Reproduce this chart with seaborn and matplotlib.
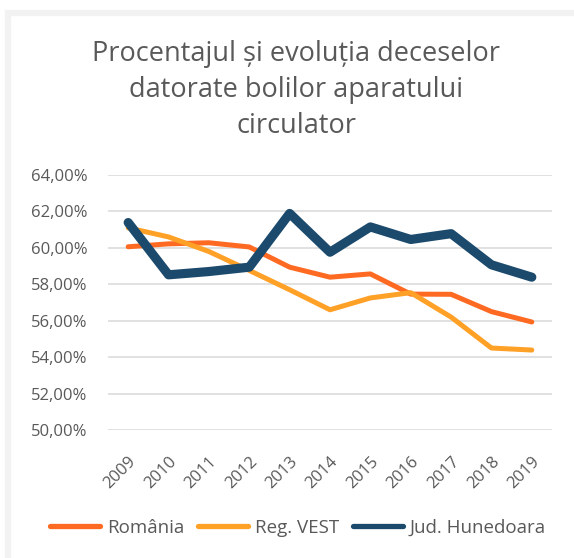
import matplotlib
matplotlib.use("Agg")
import matplotlib.pyplot as plt
import matplotlib.transforms as mtransforms
import seaborn as sns
import pandas as pd
from matplotlib.patches import Rectangle
from matplotlib.ticker import FuncFormatter, MultipleLocator

years = ["2009", "2010", "2011", "2012", "2013", "2014", "2015", "2016", "2017", "2018", "2019"]
romania = [60.06, 60.22, 60.28, 60.05, 58.94, 58.39, 58.57, 57.46, 57.45, 56.50, 55.93]
reg_vest = [61.10, 60.60, 59.80, 58.76, 57.70, 56.60, 57.25, 57.54, 56.20, 54.50, 54.39]
hunedoara = [61.39, 58.52, 58.70, 58.94, 61.89, 59.76, 61.15, 60.46, 60.78, 59.07, 58.39]
series_names = ["România", "Reg. VEST", "Jud. Hunedoara"]
colors = ["#FF6A22", "#FFA027", "#1C4A6C"]
widths = [3.6, 3.6, 6.6]

rows = []
for name, vals in zip(series_names, [romania, reg_vest, hunedoara]):
    for y, v in zip(years, vals):
        rows.append({"An": y, "Valoare": v, "Serie": name})
df = pd.DataFrame(rows)

sns.set_theme(style="white")
plt.rcParams["font.family"] = ["Open Sans", "DejaVu Sans"]
text_color = "#595959"

fig = plt.figure(figsize=(5.74, 5.58), dpi=100)
fig.patch.set_facecolor("white")
fig.add_artist(Rectangle((7.5 / 574, -0.05), 1.2, 1.0 - 13 / 558 + 0.05,
                         transform=fig.transFigure, facecolor="none",
                         edgecolor="#f2f2f2", linewidth=4.5, zorder=0))
ax = fig.add_axes([108 / 574, (558 - 430) / 558, 444 / 574, 255 / 558])

x_pos = {y: i for i, y in enumerate(years)}
df["x"] = df["An"].map(x_pos)
for name, c, w in zip(series_names, colors, widths):
    sub = df[df["Serie"] == name]
    sns.lineplot(data=sub, x="x", y="Valoare", ax=ax, color=c, linewidth=w,
                 label=name, solid_capstyle="round", solid_joinstyle="round",
                 sort=False)

ax.set_xlim(-0.5, len(years) - 0.5)
ax.set_ylim(50, 64)
ax.yaxis.set_major_locator(MultipleLocator(2))
ax.yaxis.set_major_formatter(FuncFormatter(lambda v, p: f"{v:.2f}".replace(".", ",") + "%"))
ax.set_xticks(range(len(years)))
ax.set_xticklabels(years, rotation=45, ha="right", rotation_mode="anchor")
offset = mtransforms.ScaledTranslation(5 / 100, 0, fig.dpi_scale_trans)
for lbl in ax.get_xticklabels():
    lbl.set_transform(lbl.get_transform() + offset)
ax.grid(axis="y", color="#d9d9d9", linewidth=1.1)
ax.set_axisbelow(True)
for s in ax.spines.values():
    s.set_visible(False)
ax.tick_params(axis="y", length=0, pad=15, labelsize=12, labelcolor=text_color)
ax.tick_params(axis="x", length=0, pad=17, labelsize=12, labelcolor=text_color)
ax.set_xlabel("")
ax.set_ylabel("")

fig.text(296 / 574, 1 - 133 / 558, "Procentajul și evoluția deceselor\ndatorate bolilor aparatului\ncirculator",
         ha="center", va="baseline", fontsize=19.5, color=text_color, linespacing=1.38)

ax.legend_.remove()
handles, labels = ax.get_legend_handles_labels()
leg = fig.legend(handles, labels, loc="center", bbox_to_anchor=(298 / 574, 1 - 528 / 558),
                 ncol=3, frameon=False, fontsize=13.5, handlelength=2.67, handletextpad=0.35,
                 columnspacing=0.75, borderaxespad=0, borderpad=0)
for t in leg.get_texts():
    t.set_color(text_color)
for h in leg.get_lines():
    h.set_solid_capstyle("round")
    h.set_linewidth(3.8)

fig.savefig("out.png", dpi=100, facecolor="white")
